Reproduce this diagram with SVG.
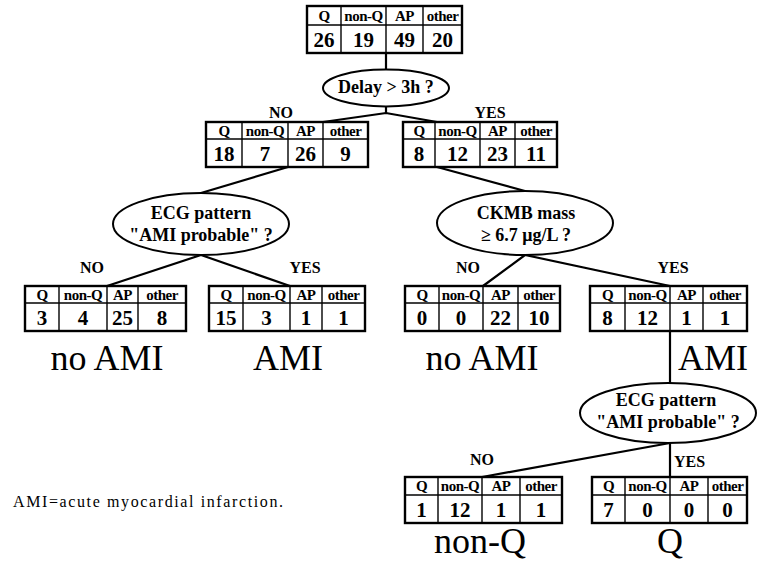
<svg xmlns="http://www.w3.org/2000/svg" width="765" height="564" viewBox="0 0 765 564">
<style>
text{font-family:"Liberation Serif","Times New Roman",Times,"DejaVu Serif",serif}
.tb{fill:#fff;stroke:#000;stroke-width:2.4}
.tl{stroke:#000;stroke-width:1.4}
.h{font-weight:bold;font-size:15px;text-anchor:middle;letter-spacing:-0.5px}
.v{font-weight:bold;font-size:21px;text-anchor:middle}
.q{font-weight:bold;font-size:18px;text-anchor:middle}
.lb{font-weight:bold;font-size:16px;text-anchor:middle}
.big{font-size:36px;text-anchor:middle}
.el{fill:#fff;stroke:#000;stroke-width:2}
.c{stroke:#000;stroke-width:2.2;fill:none}
</style>
<rect width="765" height="564" fill="#fff"/>
<g id="connectors">
<line class="c" x1="386" y1="53" x2="386" y2="70"/>
<polyline class="c" points="323,122 386,113 437,122"/>
<line class="c" x1="386" y1="106" x2="386" y2="113"/>
<line class="c" x1="288" y1="167" x2="201" y2="193"/>
<line class="c" x1="437" y1="167" x2="525" y2="191"/>
<polyline class="c" points="107,286 201,255 290,286"/>
<polyline class="c" points="483,286 525,255 670,286"/>
<line class="c" x1="670" y1="331" x2="670" y2="383"/>
<line class="c" x1="670" y1="443" x2="482" y2="477"/>
<line class="c" x1="670" y1="443" x2="670" y2="523"/>
</g>
<g id="t0">
<rect class="tb" x="307" y="6" width="155" height="47"/>
<line class="tl" x1="307" y1="25" x2="462" y2="25"/>
<line class="tl" x1="341" y1="6" x2="341" y2="53"/><line class="tl" x1="386" y1="6" x2="386" y2="53"/><line class="tl" x1="423" y1="6" x2="423" y2="53"/>
<text class="h" x="324" y="20.5">Q</text><text class="h" x="363.5" y="20.5">non-Q</text><text class="h" x="404.5" y="20.5">AP</text><text class="h" x="442.5" y="20.5">other</text>
<text class="v" x="324" y="46.5">26</text><text class="v" x="363.5" y="46.5">19</text><text class="v" x="404.5" y="46.5">49</text><text class="v" x="442.5" y="46.5">20</text>
</g>
<g id="d0">
<ellipse class="el" cx="386" cy="88" rx="63" ry="18.5"/>
<text class="q" x="386" y="93">Delay &gt; 3h ?</text>
</g>
<g id="lbl1">
<text class="lb" x="281" y="118">NO</text>
<text class="lb" x="490" y="118">YES</text>
</g>
<g id="t1">
<rect class="tb" x="206" y="122" width="162" height="45"/>
<line class="tl" x1="206" y1="139" x2="368" y2="139"/>
<line class="tl" x1="242" y1="122" x2="242" y2="167"/><line class="tl" x1="288" y1="122" x2="288" y2="167"/><line class="tl" x1="323" y1="122" x2="323" y2="167"/>
<text class="h" x="224" y="135.5">Q</text><text class="h" x="265" y="135.5">non-Q</text><text class="h" x="305.5" y="135.5">AP</text><text class="h" x="345.5" y="135.5">other</text>
<text class="v" x="224" y="160.5">18</text><text class="v" x="265" y="160.5">7</text><text class="v" x="305.5" y="160.5">26</text><text class="v" x="345.5" y="160.5">9</text>
</g>
<g id="t2">
<rect class="tb" x="403" y="122" width="154" height="45"/>
<line class="tl" x1="403" y1="139" x2="557" y2="139"/>
<line class="tl" x1="435" y1="122" x2="435" y2="167"/><line class="tl" x1="480" y1="122" x2="480" y2="167"/><line class="tl" x1="515" y1="122" x2="515" y2="167"/>
<text class="h" x="419" y="135.5">Q</text><text class="h" x="457.5" y="135.5">non-Q</text><text class="h" x="497.5" y="135.5">AP</text><text class="h" x="536" y="135.5">other</text>
<text class="v" x="419" y="160.5">8</text><text class="v" x="457.5" y="160.5">12</text><text class="v" x="497.5" y="160.5">23</text><text class="v" x="536" y="160.5">11</text>
</g>
<g id="d1">
<ellipse class="el" cx="201" cy="224" rx="88" ry="31"/>
<text class="q" x="201" y="219">ECG pattern</text>
<text class="q" x="201" y="241">"AMI probable" ?</text>
</g>
<g id="d2">
<ellipse class="el" cx="525" cy="223" rx="88" ry="32"/>
<text class="q" x="526" y="219">CKMB mass</text>
<text class="q" x="526" y="241">≥ 6.7 μg/L ?</text>
</g>
<g id="lbl2">
<text class="lb" x="92" y="273">NO</text>
<text class="lb" x="305" y="273">YES</text>
<text class="lb" x="468" y="273">NO</text>
<text class="lb" x="673" y="273">YES</text>
</g>
<g id="t3">
<rect class="tb" x="25" y="286" width="161" height="45"/>
<line class="tl" x1="25" y1="303" x2="186" y2="303"/>
<line class="tl" x1="59" y1="286" x2="59" y2="331"/><line class="tl" x1="107" y1="286" x2="107" y2="331"/><line class="tl" x1="138" y1="286" x2="138" y2="331"/>
<text class="h" x="42" y="299.5">Q</text><text class="h" x="83" y="299.5">non-Q</text><text class="h" x="122.5" y="299.5">AP</text><text class="h" x="162" y="299.5">other</text>
<text class="v" x="42" y="324.5">3</text><text class="v" x="83" y="324.5">4</text><text class="v" x="122.5" y="324.5">25</text><text class="v" x="162" y="324.5">8</text>
</g>
<g id="t4">
<rect class="tb" x="209" y="286" width="156" height="45"/>
<line class="tl" x1="209" y1="303" x2="365" y2="303"/>
<line class="tl" x1="243" y1="286" x2="243" y2="331"/><line class="tl" x1="290" y1="286" x2="290" y2="331"/><line class="tl" x1="322" y1="286" x2="322" y2="331"/>
<text class="h" x="226" y="299.5">Q</text><text class="h" x="266.5" y="299.5">non-Q</text><text class="h" x="306" y="299.5">AP</text><text class="h" x="343.5" y="299.5">other</text>
<text class="v" x="226" y="324.5">15</text><text class="v" x="266.5" y="324.5">3</text><text class="v" x="306" y="324.5">1</text><text class="v" x="343.5" y="324.5">1</text>
</g>
<g id="t5">
<rect class="tb" x="405" y="286" width="155" height="45"/>
<line class="tl" x1="405" y1="303" x2="560" y2="303"/>
<line class="tl" x1="439" y1="286" x2="439" y2="331"/><line class="tl" x1="483" y1="286" x2="483" y2="331"/><line class="tl" x1="518" y1="286" x2="518" y2="331"/>
<text class="h" x="422" y="299.5">Q</text><text class="h" x="461" y="299.5">non-Q</text><text class="h" x="500.5" y="299.5">AP</text><text class="h" x="539" y="299.5">other</text>
<text class="v" x="422" y="324.5">0</text><text class="v" x="461" y="324.5">0</text><text class="v" x="500.5" y="324.5">22</text><text class="v" x="539" y="324.5">10</text>
</g>
<g id="t6">
<rect class="tb" x="590" y="286" width="157" height="45"/>
<line class="tl" x1="590" y1="303" x2="747" y2="303"/>
<line class="tl" x1="625" y1="286" x2="625" y2="331"/><line class="tl" x1="670" y1="286" x2="670" y2="331"/><line class="tl" x1="703" y1="286" x2="703" y2="331"/>
<text class="h" x="607.5" y="299.5">Q</text><text class="h" x="647.5" y="299.5">non-Q</text><text class="h" x="686.5" y="299.5">AP</text><text class="h" x="725" y="299.5">other</text>
<text class="v" x="607.5" y="324.5">8</text><text class="v" x="647.5" y="324.5">12</text><text class="v" x="686.5" y="324.5">1</text><text class="v" x="725" y="324.5">1</text>
</g>
<g id="out1">
<text class="big" x="107" y="370">no AMI</text>
<text class="big" x="288" y="370">AMI</text>
<text class="big" x="482" y="370">no AMI</text>
<text class="big" x="713" y="370">AMI</text>
</g>
<g id="d3">
<ellipse class="el" cx="668" cy="413" rx="88" ry="30"/>
<text class="q" x="666" y="406">ECG pattern</text>
<text class="q" x="668" y="428">"AMI probable" ?</text>
</g>
<g id="lbl3">
<text class="lb" x="482" y="465">NO</text>
<text class="lb" x="674" y="467" style="text-anchor:start">YES</text>
</g>
<g id="t7">
<rect class="tb" x="405" y="477" width="157" height="46"/>
<line class="tl" x1="405" y1="495" x2="562" y2="495"/>
<line class="tl" x1="438" y1="477" x2="438" y2="523"/><line class="tl" x1="482" y1="477" x2="482" y2="523"/><line class="tl" x1="520" y1="477" x2="520" y2="523"/>
<text class="h" x="421.5" y="491">Q</text><text class="h" x="460" y="491">non-Q</text><text class="h" x="501" y="491">AP</text><text class="h" x="541" y="491">other</text>
<text class="v" x="421.5" y="516.5">1</text><text class="v" x="460" y="516.5">12</text><text class="v" x="501" y="516.5">1</text><text class="v" x="541" y="516.5">1</text>
</g>
<g id="t8">
<rect class="tb" x="592" y="477" width="155" height="46"/>
<line class="tl" x1="592" y1="495" x2="747" y2="495"/>
<line class="tl" x1="625" y1="477" x2="625" y2="523"/><line class="tl" x1="670" y1="477" x2="670" y2="523"/><line class="tl" x1="708" y1="477" x2="708" y2="523"/>
<text class="h" x="608.5" y="491">Q</text><text class="h" x="647.5" y="491">non-Q</text><text class="h" x="689" y="491">AP</text><text class="h" x="727.5" y="491">other</text>
<text class="v" x="608.5" y="516.5">7</text><text class="v" x="647.5" y="516.5">0</text><text class="v" x="689" y="516.5">0</text><text class="v" x="727.5" y="516.5">0</text>
</g>
<g id="out2">
<text class="big" x="480" y="553">non-Q</text>
<text class="big" x="670" y="553">Q</text>
</g>
<text x="13" y="507" font-size="16" textLength="270" lengthAdjust="spacing">AMI=acute myocardial infarction.</text>
</svg>
